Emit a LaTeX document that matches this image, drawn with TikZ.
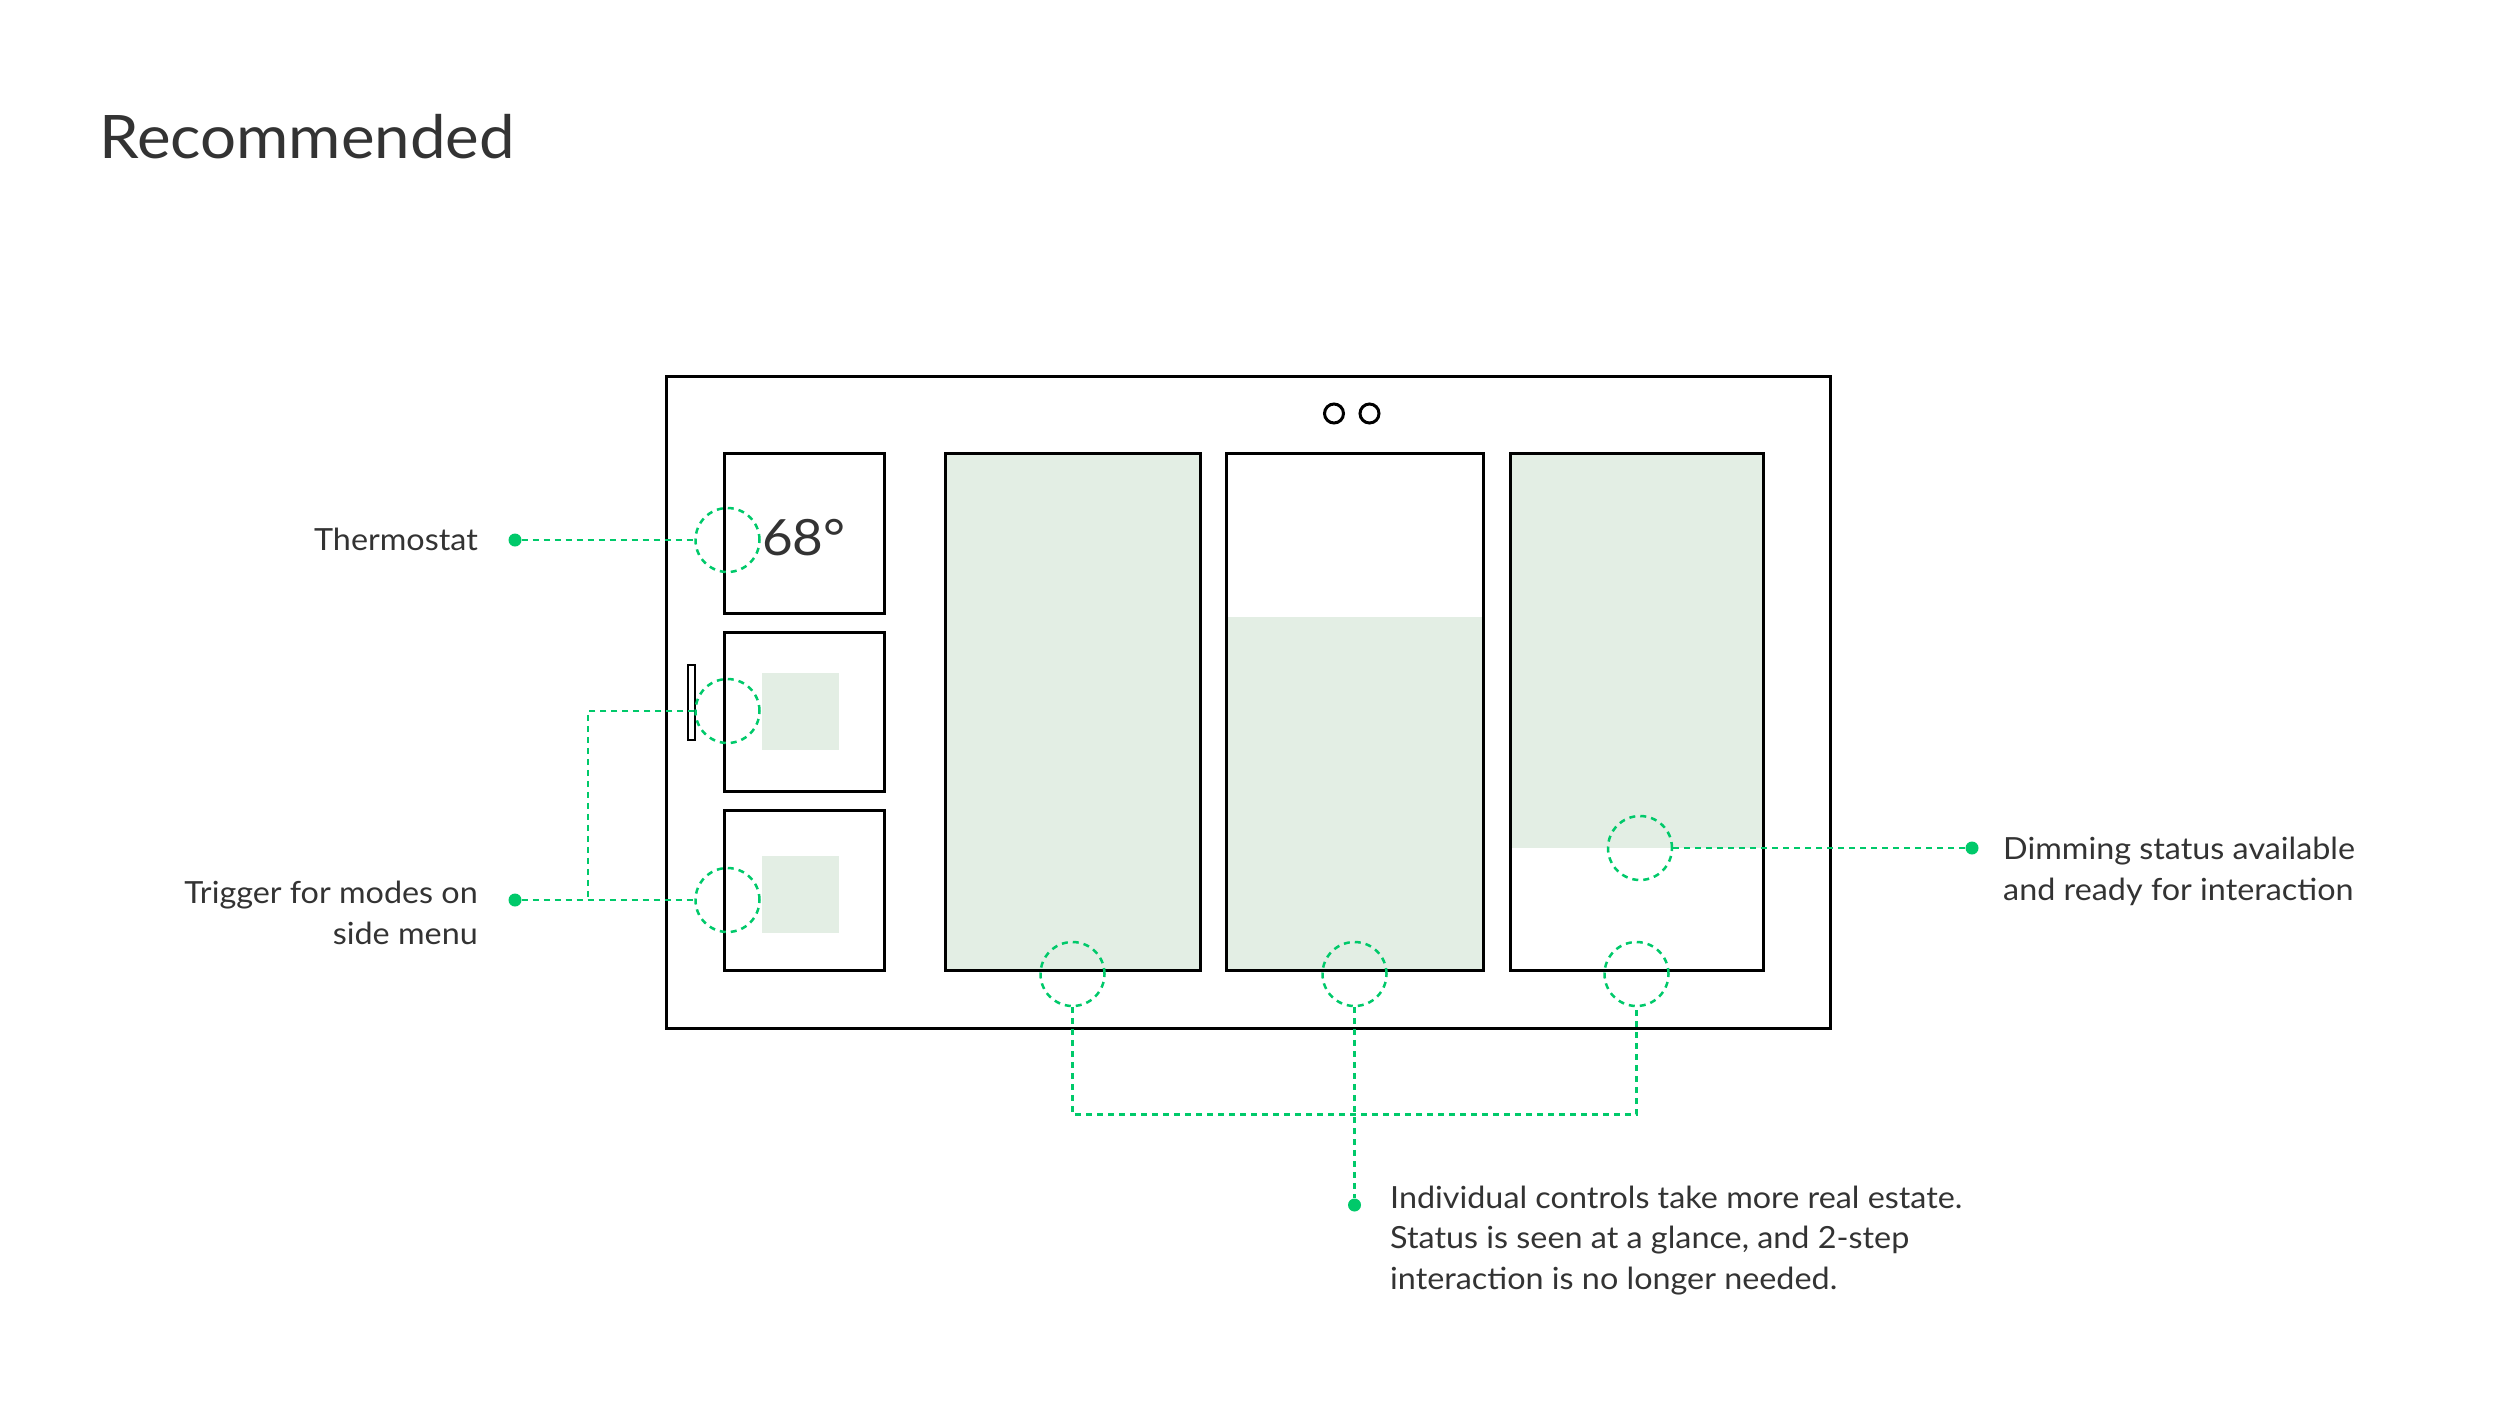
\documentclass[tikz,border=0pt]{standalone}
\usepackage{fontspec}
\setmainfont{Lato}[FakeStretch=1.06]
\definecolor{grn}{HTML}{00C96A}
\definecolor{fillg}{HTML}{E3EEE4}
\definecolor{txt}{HTML}{333333}
\begin{document}
\begin{tikzpicture}[x=1pt,y=-1pt,
  frame/.style={draw=black,line width=3pt,rectangle,inner sep=0pt},
  lead/.style={draw=grn,line width=2.5pt,dash pattern=on 6pt off 5pt},
  ring/.style={circle,draw=grn,line width=2.5pt,dash pattern=on 6pt off 5pt,minimum size=64pt,inner sep=0pt},
  dotn/.style={circle,fill=grn,minimum size=13pt,inner sep=0pt},
  lbl/.style={font=\fontsize{30.5}{40.5}\selectfont,text=txt,inner sep=0pt},
  knob/.style={circle,draw=black,line width=3pt,minimum size=19pt,inner sep=0pt},
]
\useasboundingbox (0,0) rectangle (2500,1406);
% title
\node[anchor=base west,inner sep=0pt,text=txt,font=\fontsize{60}{64}\selectfont] (title) at (99,158) {Recommended};

% fills
\fill[fillg] (945,453) rectangle (1200,970);
\fill[fillg] (1226,617) rectangle (1483,970);
\fill[fillg] (1510,453) rectangle (1763,848);
\fill[fillg] (762,673) rectangle (839,750);
\fill[fillg] (762,856) rectangle (839,933);

% frames
\node[frame,minimum width=1164pt,minimum height=652pt] (outer) at (1248.5,702.5) {};
\node[frame,minimum width=160pt,minimum height=160pt] (b1) at (804,533) {};
\node[frame,minimum width=160pt,minimum height=159pt] (b2) at (804,711.5) {};
\node[frame,minimum width=160pt,minimum height=160pt] (b3) at (804,890) {};
\node[frame,minimum width=255pt,minimum height=517pt] (p1) at (1072.5,711.5) {};
\node[frame,minimum width=257pt,minimum height=517pt] (p2) at (1354.5,711.5) {};
\node[frame,minimum width=253pt,minimum height=517pt] (p3) at (1636.5,711.5) {};
\node[frame,line width=2.5pt,minimum width=7pt,minimum height=75pt] (handle) at (691.5,702.5) {};
\node[knob] (k1) at (1334,413.5) {};
\node[knob] (k2) at (1369.5,413.5) {};
\node[anchor=base west,inner sep=0pt,text=txt,font=\fontsize{50}{55}\selectfont] (temp) at (762,555) {68°};

% rings
\node[ring] (rT) at (727.5,540) {};
\node[ring] (r2) at (727.5,711) {};
\node[ring] (r3) at (727.5,900) {};
\node[ring] (rB1) at (1072.5,974) {};
\node[ring] (rB2) at (1354.5,974) {};
\node[ring] (rB3) at (1636.5,974) {};
\node[ring] (rD) at (1640,848) {};

% dots
\node[dotn] (dT) at (515,540) {};
\node[dotn] (dM) at (515,900) {};
\node[dotn] (dD) at (1972,848) {};
\node[dotn] (dB) at (1354.5,1205) {};
\coordinate (jM) at (588,900);
\coordinate (jB) at (1354.5,1114.5);

% leads
\draw[lead] (dT) -- (rT.west);
\draw[lead] (dM) -- (r3.west);
\draw[lead] (r2.west) -| (jM);
\draw[lead] (rD.east) -- (dD);
\draw[lead] (rB1.south) |- (jB) -| (rB3.south);
\draw[lead] (rB2.south) -- (dB);

% labels (multi-line: base anchor = last line)
\node[lbl,anchor=base east] (lT) at (478,550) {Thermostat};
\node[lbl,anchor=base east,align=right] (lM) at (478,944) {Trigger for modes on\\side menu};
\node[lbl,anchor=base west,align=left] (lD) at (2003,900) {Dimming status available\\and ready for interaction};
\node[lbl,anchor=base west,align=left] (lB) at (1390,1289) {Individual controls take more real estate.\\Status is seen at a glance, and 2-step\\interaction is no longer needed.};
\end{tikzpicture}
\end{document}
